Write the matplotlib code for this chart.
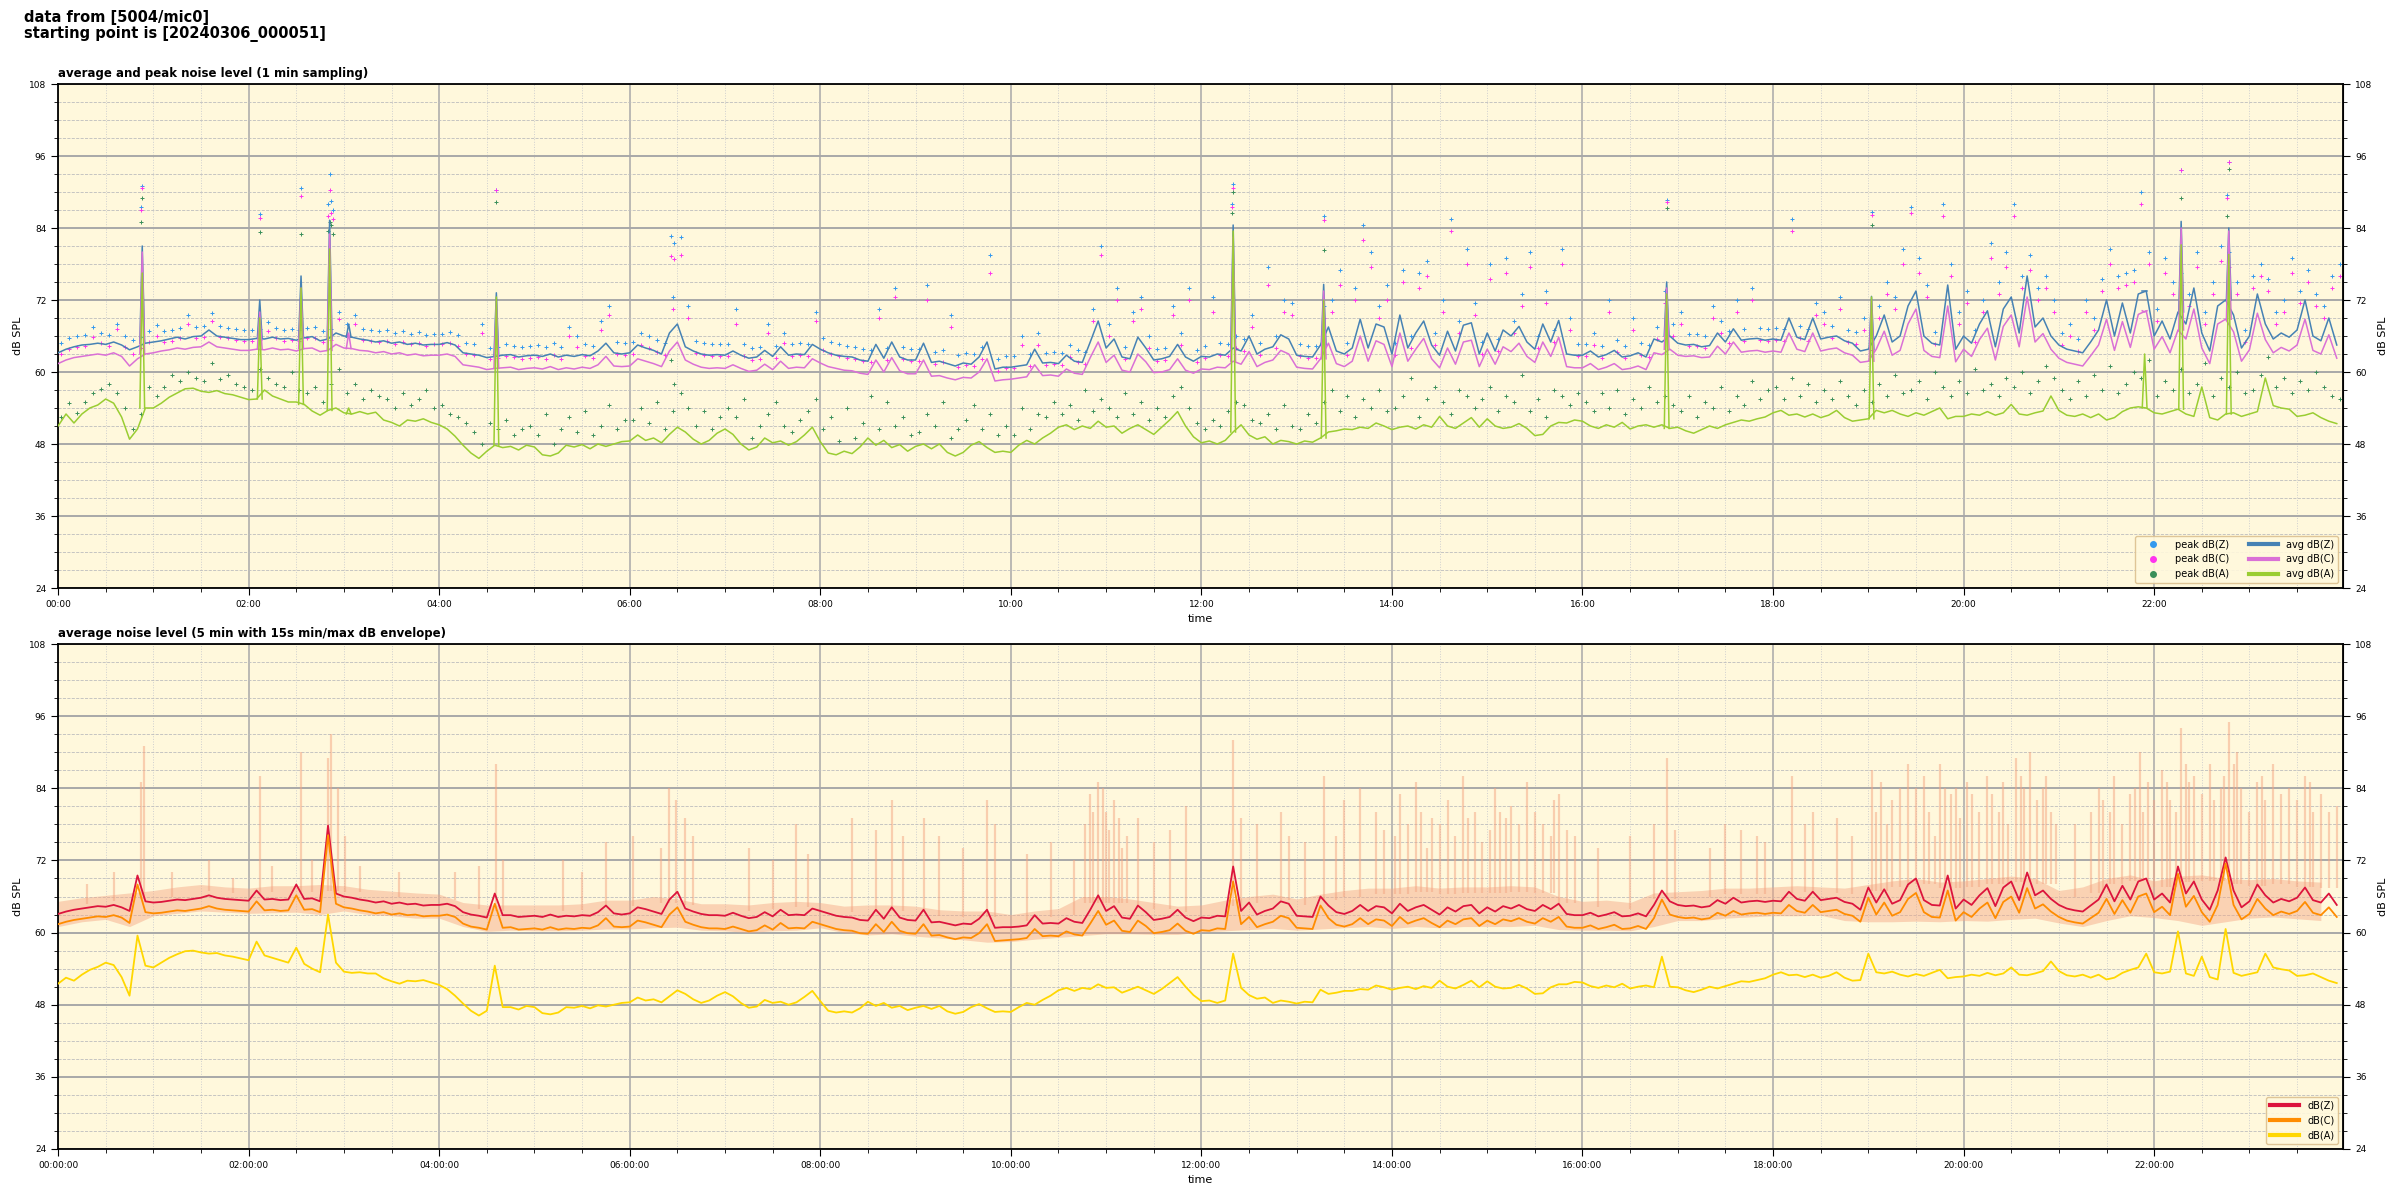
import matplotlib.pyplot as plt
import numpy as np
from matplotlib.lines import Line2D
from matplotlib.ticker import MultipleLocator, FuncFormatter

# minutes after 00:00 (5 min and 15 min steps)
t5 = np.arange(0, 1440, 5)
t15 = np.arange(0, 1440, 15)

# ---- top panel: 1 min averages (read at 5 min steps), one row per hour
avg_z = [
    63.2, 63.8, 64.2, 64.5, 64.6, 64.8, 64.6, 65.0, 64.5, 63.7, 64.2, 64.8,
    65.0, 65.2, 65.5, 65.8, 65.5, 65.9, 66.0, 67.0, 66.0, 65.8, 65.6, 65.4,
    65.4, 65.6, 65.5, 65.8, 65.5, 65.6, 65.3, 65.7, 65.9, 65.2, 65.5, 66.5,
    66.0, 65.8, 65.5, 65.3, 65.0, 65.2, 64.8, 65.0, 64.6, 64.8, 64.5, 64.6,
    64.6, 64.9, 64.5, 63.2, 63.0, 62.8, 62.4, 62.6, 62.8, 62.9, 62.5, 62.7,
    62.8, 62.6, 63.0, 62.5, 62.8, 62.6, 62.9, 62.7, 63.5, 64.8, 63.2, 63.0,
    63.2, 64.5, 64.0, 63.6, 63.0, 66.5, 68.0, 64.2, 63.5, 63.0, 62.8, 62.9,
    62.8, 63.5, 62.8, 62.3, 62.5, 63.6, 62.6, 64.2, 62.8, 63.0, 62.9, 64.6,
    63.8, 63.2, 62.8, 62.6, 62.5, 62.0, 61.8, 64.6, 62.3, 65.0, 62.5, 62.0,
    62.0, 64.8, 61.6, 61.8, 61.4, 61.0, 61.5, 61.3, 62.5, 65.0, 60.5, 60.8,
    60.8, 61.0, 61.2, 63.8, 61.5, 61.6, 61.4, 62.8, 61.8, 61.6, 65.0, 68.5,
    64.0, 65.5, 62.5, 62.2, 65.8, 64.0, 62.0, 62.2, 62.6, 64.6, 62.5, 61.8,
    62.6, 62.5, 63.0, 62.8, 64.0, 63.5, 66.0, 63.0, 63.8, 64.2, 66.2, 65.5,
    62.8, 62.6, 62.5, 64.5, 67.5, 63.5, 63.0, 64.0, 68.8, 64.0, 68.0, 67.5,
    63.0, 69.5, 64.0, 66.5, 68.5, 64.5, 62.8, 66.8, 63.5, 67.8, 68.2, 63.0,
    66.5, 63.5, 67.0, 66.0, 67.6, 65.0, 63.8, 68.0, 65.0, 68.6, 63.0, 62.8,
    62.8, 63.5, 62.5, 62.9, 63.6, 62.5, 62.7, 63.2, 62.5, 65.5, 65.0, 66.0,
    64.8, 64.5, 64.6, 64.2, 64.4, 66.5, 65.0, 67.2, 65.3, 65.5, 65.6, 65.3,
    65.5, 65.3, 69.0, 65.8, 65.4, 69.0, 65.5, 65.8, 66.0, 65.2, 64.8, 63.5,
    63.8, 66.0, 69.5, 65.0, 66.0, 71.0, 73.5, 66.0, 64.8, 64.5, 74.5, 63.8,
    66.0, 64.8, 68.0, 70.2, 64.2, 70.5, 72.5, 66.5, 76.0, 67.5, 69.0, 66.0,
    64.5, 63.8, 63.5, 63.2, 65.0, 67.0, 72.0, 66.0, 71.5, 66.5, 73.0, 73.5,
    66.0, 68.5, 65.5, 70.0, 68.0, 74.0, 66.5, 63.5, 71.0, 72.0, 69.5, 64.0,
    66.0, 73.0, 68.0, 65.5, 66.5, 65.8, 67.0, 72.0, 66.0, 65.2, 69.0, 64.5,
]
avg_c = [
    61.4, 62.0, 62.4, 62.6, 62.8, 63.0, 62.8, 63.2, 62.6, 61.0, 62.2, 63.0,
    63.2, 63.5, 63.7, 64.0, 63.8, 64.1, 64.2, 65.0, 64.2, 64.0, 63.8, 63.6,
    63.6, 63.8, 63.7, 64.0, 63.7, 63.8, 63.5, 63.9, 64.0, 63.4, 63.6, 64.6,
    64.0, 63.9, 63.6, 63.5, 63.2, 63.4, 63.0, 63.2, 62.8, 63.0, 62.7, 62.8,
    62.8, 63.0, 62.6, 61.2, 61.0, 60.8, 60.4, 60.6, 60.7, 60.8, 60.4, 60.6,
    60.7, 60.5, 60.9, 60.4, 60.7, 60.5, 60.8, 60.6, 61.2, 62.6, 61.0, 60.9,
    61.0, 62.2, 61.8, 61.4, 60.9, 63.5, 65.0, 62.0, 61.3, 60.8, 60.6, 60.7,
    60.6, 61.2, 60.6, 60.1, 60.3, 61.3, 60.4, 61.8, 60.6, 60.8, 60.7, 62.2,
    61.5, 60.9, 60.6, 60.3, 60.2, 59.8, 59.6, 62.0, 60.0, 62.4, 60.2, 59.7,
    59.7, 62.0, 59.3, 59.4, 59.0, 58.7, 59.1, 59.0, 60.0, 62.2, 58.5, 58.7,
    58.8, 59.0, 59.2, 61.2, 59.4, 59.5, 59.3, 60.5, 59.8, 59.6, 62.4, 65.0,
    61.6, 62.8, 60.3, 60.0, 63.0, 61.7, 59.9, 60.0, 60.4, 62.2, 60.3, 59.8,
    60.5, 60.4, 60.8, 60.7, 61.8, 61.3, 63.4, 60.9, 61.6, 62.0, 63.6, 63.0,
    60.8, 60.6, 60.5, 62.2, 64.8, 61.4, 60.9, 61.8, 66.0, 61.8, 65.2, 64.6,
    60.9, 66.5, 61.8, 63.8, 65.6, 62.2, 60.7, 64.0, 61.3, 65.0, 65.3, 60.9,
    63.8, 61.3, 64.2, 63.4, 64.8, 62.6, 61.6, 65.0, 62.6, 65.8, 60.9, 60.7,
    60.7, 61.4, 60.4, 60.8, 61.4, 60.4, 60.6, 61.0, 60.4, 63.2, 62.9, 63.8,
    62.8, 62.6, 62.7, 62.4, 62.5, 64.3, 63.0, 65.0, 63.3, 63.5, 63.6, 63.3,
    63.5, 63.3, 66.5, 63.8, 63.4, 66.5, 63.5, 63.8, 64.0, 63.2, 62.8, 61.6,
    61.8, 63.8, 66.8, 62.8, 63.6, 68.0, 70.5, 63.6, 62.6, 62.4, 71.0, 61.7,
    63.8, 62.6, 65.4, 67.3, 62.0, 67.6, 69.5, 64.2, 72.5, 65.0, 66.4, 63.8,
    62.3, 61.6, 61.3, 61.0, 62.7, 64.5, 68.8, 63.6, 68.4, 64.1, 69.6, 70.2,
    63.8, 65.9, 63.2, 67.0, 65.5, 70.5, 64.0, 61.4, 68.0, 68.8, 66.7, 61.8,
    63.7, 69.8, 65.4, 63.2, 64.1, 63.5, 64.5, 68.8, 63.6, 63.0, 66.2, 62.3,
]
avg_a = [
    51.0, 53.0, 51.5, 53.0, 54.0, 54.5, 55.5, 54.8, 52.5, 48.8, 50.5, 54.0,
    54.0, 54.8, 55.8, 56.5, 57.2, 57.3, 56.8, 56.6, 56.9, 56.4, 56.2, 55.8,
    55.4, 55.5, 57.0, 56.0, 55.5, 55.0, 55.0, 54.6, 53.5, 52.8, 53.6, 54.0,
    53.2, 53.0, 53.4, 53.0, 53.3, 52.0, 51.6, 51.0, 52.0, 51.8, 52.2, 51.6,
    51.2, 50.5, 49.3, 47.8, 46.5, 45.6, 46.8, 47.8, 47.4, 47.6, 47.0, 47.8,
    47.5, 46.2, 46.0, 46.5, 47.8, 47.5, 47.9, 47.2, 48.0, 47.6, 48.0, 48.4,
    48.5, 49.5, 48.6, 49.0, 48.2, 49.6, 50.8, 50.0, 48.8, 48.0, 48.6, 49.8,
    50.5, 49.6, 48.0, 47.0, 47.5, 49.0, 48.2, 48.5, 47.8, 48.4, 49.5, 50.8,
    48.4, 46.5, 46.2, 46.8, 46.4, 47.5, 49.0, 47.8, 48.6, 47.4, 47.9, 46.8,
    47.6, 48.0, 47.2, 48.0, 46.6, 46.0, 46.6, 47.8, 48.4, 47.4, 46.6, 46.8,
    46.6, 47.8, 48.6, 48.0, 49.0, 49.8, 50.8, 51.2, 50.4, 51.0, 50.6, 51.8,
    50.8, 51.0, 49.8, 50.6, 51.2, 50.4, 49.6, 50.8, 52.0, 53.4, 51.0, 49.2,
    48.2, 48.5, 48.0, 48.6, 50.0, 51.2, 49.5, 48.8, 49.2, 48.0, 48.6, 48.4,
    48.0, 48.5, 48.3, 49.0, 50.0, 50.2, 50.5, 50.4, 50.8, 50.6, 51.5, 51.0,
    50.4, 50.8, 51.0, 50.5, 51.2, 50.8, 52.6, 51.0, 50.6, 51.5, 52.4, 50.8,
    52.2, 51.0, 50.6, 50.8, 51.4, 50.6, 49.4, 49.6, 51.0, 51.6, 51.5, 52.0,
    51.8, 51.0, 50.6, 51.2, 50.8, 51.6, 50.5, 51.0, 51.2, 50.8, 51.2, 50.6,
    50.8, 50.2, 49.8, 50.4, 51.0, 50.6, 51.2, 51.6, 52.0, 51.8, 52.2, 52.5,
    53.2, 53.6, 52.8, 53.0, 52.5, 53.0, 52.4, 52.8, 53.6, 52.4, 51.8, 52.0,
    52.2, 53.6, 53.2, 53.6, 53.0, 52.6, 53.2, 52.8, 53.4, 54.0, 52.2, 52.6,
    52.6, 53.0, 52.8, 53.4, 52.8, 53.2, 54.6, 53.0, 52.8, 53.2, 53.5, 56.0,
    53.6, 52.8, 52.6, 53.0, 52.4, 53.0, 52.0, 52.4, 53.4, 54.0, 54.2, 54.0,
    53.2, 53.0, 53.4, 53.8, 53.0, 52.6, 57.5, 52.4, 52.0, 53.0, 53.2, 52.6,
    53.0, 53.4, 59.0, 54.4, 54.0, 53.8, 52.6, 52.8, 53.2, 52.4, 51.8, 51.4,
]

# 1 min peaks (one read every 5 min)
peak_z = [
    64.8, 65.6, 66.0, 66.2, 67.5, 66.5, 66.2, 68.0, 66.0, 65.4, 65.8, 66.8,
    67.8, 66.8, 67.0, 67.4, 69.5, 67.5, 67.6, 69.8, 67.6, 67.4, 67.2, 67.0,
    67.0, 67.2, 68.4, 67.4, 67.0, 67.2, 67.0, 67.4, 67.5, 66.8, 67.2, 70.0,
    68.0, 69.5, 67.2, 67.0, 66.8, 67.0, 66.5, 66.8, 66.4, 66.6, 66.2, 66.4,
    66.4, 66.6, 66.2, 64.8, 64.6, 68.0, 64.0, 64.2, 64.6, 64.4, 64.2, 64.4,
    64.5, 64.2, 64.8, 64.2, 67.5, 66.0, 64.6, 64.4, 68.5, 71.0, 65.0, 64.8,
    65.0, 66.5, 66.0, 65.4, 64.8, 72.5, 82.5, 71.0, 65.2, 64.8, 64.6, 64.7,
    64.6, 70.5, 64.6, 64.0, 64.2, 68.0, 64.4, 66.5, 64.6, 64.8, 64.7, 70.0,
    65.6, 65.0, 64.6, 64.4, 64.2, 63.8, 63.6, 70.5, 64.0, 74.0, 64.2, 63.8,
    63.8, 74.5, 63.4, 63.6, 69.5, 62.8, 63.2, 63.0, 64.2, 79.5, 62.2, 62.6,
    62.6, 66.0, 63.0, 66.5, 63.2, 63.4, 63.2, 64.5, 63.6, 63.4, 70.5, 81.0,
    68.0, 74.0, 64.2, 70.0, 72.5, 66.0, 63.8, 64.0, 71.0, 66.5, 74.0, 63.6,
    64.4, 72.5, 64.8, 64.6, 66.0, 65.5, 69.5, 64.8, 77.5, 66.0, 72.0, 71.5,
    64.6, 64.4, 64.3, 71.0, 72.0, 77.0, 64.8, 74.0, 84.5, 80.0, 71.0, 74.5,
    64.8, 77.0, 66.0, 76.5, 78.5, 66.5, 72.0, 85.5, 68.5, 80.5, 71.5, 65.0,
    78.0, 65.5, 79.0, 68.5, 73.0, 80.0, 66.0, 73.5, 67.0, 80.5, 69.0, 64.6,
    64.6, 66.5, 64.3, 72.0, 65.4, 64.3, 69.0, 64.8, 64.5, 67.5, 73.5, 68.0,
    70.0, 66.3, 66.4, 66.0, 71.0, 68.5, 66.8, 72.0, 67.2, 74.0, 67.4, 67.2,
    67.4, 67.1, 85.5, 67.6, 67.2, 71.5, 70.0, 67.6, 72.5, 67.0, 66.6, 69.0,
    65.6, 71.0, 75.0, 72.5, 80.5, 87.5, 79.0, 74.5, 66.6, 88.0, 78.0, 70.0,
    73.5, 67.0, 72.0, 81.5, 75.0, 80.0, 88.0, 76.0, 79.5, 74.0, 76.0, 72.0,
    66.5, 68.0, 65.5, 72.0, 69.0, 75.5, 80.5, 76.0, 76.5, 77.0, 90.0, 80.0,
    70.5, 79.0, 75.0, 76.5, 73.0, 80.0, 70.0, 75.0, 81.0, 80.0, 75.0, 67.0,
    76.0, 78.0, 75.5, 70.0, 72.0, 79.0, 73.5, 77.0, 73.0, 71.0, 76.0, 78.0,
]
peak_c = [
    63.0, 63.8, 64.2, 64.4, 65.8, 64.8, 64.4, 67.2, 64.2, 63.0, 64.0, 65.0,
    66.0, 65.0, 65.2, 65.6, 68.0, 65.7, 65.8, 68.5, 65.8, 65.6, 65.4, 65.2,
    65.2, 65.4, 66.8, 65.6, 65.2, 65.4, 65.2, 65.6, 65.7, 65.0, 65.4, 68.8,
    66.2, 68.0, 65.4, 65.2, 65.0, 65.2, 64.7, 65.0, 64.6, 64.8, 64.4, 64.6,
    64.6, 64.8, 64.4, 63.0, 62.8, 66.5, 62.2, 62.4, 62.6, 62.5, 62.2, 62.4,
    62.5, 62.2, 62.8, 62.2, 66.0, 64.2, 62.6, 62.4, 67.0, 69.5, 63.0, 62.8,
    63.0, 64.5, 64.0, 63.4, 62.8, 70.5, 79.5, 69.0, 63.2, 62.8, 62.6, 62.7,
    62.6, 68.0, 62.6, 62.0, 62.2, 66.5, 62.4, 64.8, 62.6, 62.8, 62.7, 68.5,
    63.6, 63.0, 62.6, 62.4, 62.2, 61.8, 61.6, 69.0, 62.0, 72.5, 62.2, 61.8,
    61.8, 72.0, 61.4, 61.6, 67.5, 60.8, 61.2, 61.0, 62.2, 76.5, 60.2, 60.6,
    60.6, 64.5, 61.0, 64.5, 61.2, 61.4, 61.2, 62.5, 61.6, 61.4, 68.5, 79.5,
    66.0, 72.0, 62.2, 68.5, 70.5, 64.0, 61.8, 62.0, 69.5, 64.5, 72.0, 61.6,
    62.4, 70.0, 62.8, 62.6, 64.0, 63.5, 67.5, 62.8, 74.5, 64.0, 70.0, 69.5,
    62.6, 62.4, 62.3, 69.0, 70.0, 74.5, 62.8, 72.0, 82.0, 77.5, 69.0, 72.0,
    62.8, 75.0, 64.0, 74.0, 76.0, 64.5, 70.0, 83.5, 66.5, 78.0, 69.5, 63.0,
    75.5, 63.5, 76.5, 66.5, 71.0, 77.5, 64.0, 71.5, 65.0, 78.0, 67.0, 62.6,
    62.6, 64.5, 62.3, 70.0, 63.4, 62.3, 67.0, 62.8, 62.5, 65.5, 71.5, 66.0,
    68.0, 64.3, 64.4, 64.0, 69.0, 66.5, 64.8, 70.0, 65.2, 72.0, 65.4, 65.2,
    65.4, 65.1, 83.5, 65.6, 65.2, 69.5, 68.0, 65.6, 70.5, 65.0, 64.6, 67.0,
    63.6, 69.0, 73.0, 70.5, 78.0, 86.5, 76.5, 72.5, 64.6, 86.0, 76.0, 68.0,
    71.5, 65.0, 70.0, 79.0, 73.0, 77.5, 86.0, 74.0, 77.0, 72.0, 74.0, 70.0,
    64.5, 66.0, 63.5, 70.0, 67.0, 73.5, 78.0, 74.0, 74.5, 75.0, 88.0, 78.0,
    68.5, 76.5, 73.0, 74.5, 71.0, 77.5, 68.0, 73.0, 78.5, 77.5, 73.0, 65.0,
    74.0, 76.0, 73.5, 68.0, 70.0, 76.5, 71.5, 75.0, 71.0, 69.0, 74.0, 76.0,
]
peak_a = [
    52.5, 54.8, 53.2, 55.0, 56.5, 57.2, 58.0, 56.5, 54.0, 50.5, 53.0, 57.5,
    56.0, 57.5, 59.5, 58.5, 60.0, 59.0, 58.5, 61.5, 58.8, 59.5, 58.0, 57.5,
    57.0, 60.5, 59.0, 58.0, 57.5, 60.0, 57.0, 56.5, 57.5, 55.0, 58.0, 60.5,
    56.5, 58.0, 55.5, 57.0, 56.0, 55.5, 54.0, 56.5, 54.5, 55.5, 57.0, 54.0,
    54.5, 53.0, 52.5, 51.5, 50.0, 48.0, 51.5, 50.5, 52.0, 49.5, 50.5, 51.0,
    49.5, 53.0, 48.0, 50.5, 52.5, 50.0, 53.5, 49.5, 51.0, 54.5, 50.5, 52.0,
    52.0, 54.0, 51.5, 55.0, 50.5, 53.5, 56.5, 54.0, 51.0, 53.5, 50.5, 52.5,
    54.0, 52.5, 55.5, 49.0, 51.0, 53.0, 55.0, 51.0, 50.0, 52.0, 53.5, 55.5,
    50.5, 52.5, 48.5, 54.0, 49.0, 51.5, 56.0, 50.5, 55.0, 51.0, 52.5, 49.5,
    50.0, 53.0, 51.0, 55.0, 49.0, 50.5, 52.0, 54.5, 50.5, 53.0, 49.5, 51.0,
    49.5, 54.0, 50.5, 53.0, 52.5, 55.0, 53.0, 54.5, 52.0, 57.0, 53.5, 55.5,
    54.0, 52.5, 56.5, 53.0, 55.0, 52.0, 54.0, 52.5, 56.0, 57.5, 54.0, 51.5,
    50.5, 52.0, 51.0, 53.5, 55.0, 54.5, 52.0, 51.5, 53.0, 50.5, 54.5, 51.0,
    50.5, 53.0, 51.5, 55.0, 57.0, 53.5, 56.0, 52.5, 55.5, 54.0, 57.0, 53.5,
    54.0, 56.0, 59.0, 52.5, 55.5, 57.5, 55.0, 53.0, 57.0, 56.0, 54.0, 55.5,
    57.5, 53.5, 56.0, 55.0, 59.5, 53.5, 55.5, 52.5, 57.0, 56.0, 54.5, 56.5,
    55.0, 53.5, 56.5, 54.0, 57.0, 53.0, 55.5, 54.0, 57.5, 55.0, 56.0, 54.5,
    53.5, 56.0, 52.5, 55.0, 54.0, 57.5, 53.5, 56.0, 54.5, 58.5, 55.5, 57.0,
    57.5, 55.5, 59.0, 56.0, 58.0, 55.0, 57.0, 55.5, 58.5, 56.0, 54.5, 57.0,
    55.0, 58.0, 56.0, 59.5, 56.5, 57.0, 58.5, 55.5, 60.0, 57.5, 56.0, 58.5,
    56.5, 60.5, 57.0, 58.0, 56.0, 59.0, 57.5, 60.0, 56.5, 58.5, 61.0, 59.0,
    57.0, 55.5, 58.5, 56.0, 59.5, 57.0, 61.0, 56.5, 58.0, 60.0, 59.0, 62.0,
    56.0, 58.5, 57.0, 60.5, 56.5, 58.0, 61.5, 56.0, 59.0, 57.5, 60.0, 56.5,
    57.0, 59.5, 62.5, 57.5, 59.0, 56.5, 58.5, 57.0, 60.0, 57.5, 56.0, 55.5,
]

# short events in the 1 min averages
spike_t = [53, 127, 153, 171, 183, 276, 740, 797, 1013, 1142, 1314, 1337, 1367]
spike_z = [81.0, 72.0, 76.0, 85.3, 68.0, 73.2, 84.5, 74.6, 75.0, 72.6, 73.5, 85.1, 84.0]
spike_c = [80.0, 70.0, 74.0, 83.0, 66.5, 72.0, 82.5, 73.5, 74.0, 72.0, 70.0, 84.0, 83.5]
spike_a = [76.5, 69.0, 74.0, 80.5, 54.0, 72.5, 83.5, 72.0, 73.0, 72.5, 63.0, 81.2, 79.6]

# peaks during those events
dot_t = [52, 53, 127, 153, 170, 171, 172, 173, 276, 386, 388, 739, 740, 797, 1013, 1142, 1337, 1366, 1367]
dot_z = [87.5, 91.0, 86.3, 90.6, 88.0, 93.0, 88.5, 87.0, 90.4, 82.6, 81.5, 88.0, 91.4, 86.0, 88.6, 86.6, 93.6, 89.5, 95.0]
dot_c = [87.0, 90.6, 85.6, 89.3, 86.0, 90.4, 86.5, 85.5, 90.4, 79.3, 78.8, 87.5, 90.7, 85.4, 88.3, 86.2, 93.6, 89.0, 95.0]
dot_a = [85.0, 89.0, 83.4, 83.0, 83.5, 85.0, 84.5, 83.0, 88.4, 62.0, 58.0, 86.5, 90.0, 80.3, 87.3, 84.5, 89.0, 86.0, 93.8]

# ---- bottom panel: 5 min averages
z_5m = [
    63.1, 63.5, 63.8, 64.0, 64.2, 64.4, 64.3, 64.6, 64.2, 63.6, 69.5, 65.2,
    65.0, 65.1, 65.3, 65.5, 65.4, 65.6, 65.8, 66.2, 65.8, 65.6, 65.5, 65.4,
    65.3, 67.0, 65.5, 65.6, 65.4, 65.5, 68.0, 65.6, 65.7, 65.2, 77.8, 66.5,
    66.0, 65.8, 65.5, 65.3, 65.0, 65.2, 64.8, 65.0, 64.7, 64.8, 64.5, 64.6,
    64.6, 64.8, 64.4, 63.4, 63.0, 62.8, 62.5, 66.5, 62.9, 62.9, 62.6, 62.7,
    62.8, 62.6, 63.0, 62.6, 62.8, 62.7, 62.9, 62.8, 63.4, 64.5, 63.2, 63.0,
    63.2, 64.2, 63.9, 63.5, 63.1, 65.5, 66.8, 64.0, 63.5, 63.1, 62.9, 62.9,
    62.8, 63.3, 62.8, 62.4, 62.6, 63.4, 62.7, 63.8, 62.9, 63.0, 62.9, 64.0,
    63.6, 63.2, 62.8, 62.6, 62.5, 62.1, 62.0, 63.8, 62.3, 64.2, 62.5, 62.1,
    62.0, 63.8, 61.7, 61.8, 61.5, 61.2, 61.5, 61.4, 62.3, 63.8, 60.8, 60.9,
    60.9, 61.0, 61.2, 62.9, 61.5, 61.6, 61.5, 62.4, 61.8, 61.6, 63.8, 66.2,
    63.6, 64.4, 62.5, 62.3, 64.5, 63.4, 62.1, 62.3, 62.6, 63.8, 62.5, 61.9,
    62.5, 62.4, 62.8, 62.7, 71.0, 63.6, 65.0, 63.0, 63.6, 64.0, 65.2, 64.8,
    62.8, 62.7, 62.6, 66.0, 64.5, 63.4, 63.1, 63.6, 64.6, 63.6, 64.4, 64.2,
    63.2, 64.8, 63.6, 64.2, 64.6, 63.8, 63.0, 64.2, 63.5, 64.4, 64.6, 63.2,
    64.2, 63.5, 64.4, 64.0, 64.6, 63.9, 63.6, 64.6, 63.9, 64.8, 63.1, 62.9,
    62.9, 63.3, 62.7, 63.0, 63.4, 62.7, 62.8, 63.2, 62.7, 64.6, 67.0, 65.2,
    64.6, 64.4, 64.5, 64.2, 64.4, 65.4, 64.8, 65.8, 65.0, 65.2, 65.3, 65.1,
    65.3, 65.2, 66.8, 65.6, 65.3, 66.8, 65.4, 65.6, 65.8, 65.1, 64.8, 63.8,
    67.5, 65.0, 67.2, 64.8, 65.4, 68.0, 69.0, 65.4, 64.6, 64.5, 69.5, 64.0,
    65.5, 64.6, 66.2, 67.4, 64.4, 67.5, 68.5, 65.4, 70.0, 66.2, 67.0, 65.6,
    64.6, 64.0, 63.7, 63.5, 64.5, 65.5, 68.0, 65.2, 67.8, 65.5, 68.5, 69.0,
    65.5, 66.5, 65.0, 71.0, 66.5, 68.5, 65.5, 63.8, 67.0, 72.5, 67.0, 64.2,
    65.2, 68.0, 66.2, 65.0, 65.6, 65.2, 65.8, 67.5, 65.4, 65.0, 66.5, 64.6,
]
c_5m = [
    61.4, 61.8, 62.1, 62.3, 62.5, 62.7, 62.6, 62.9, 62.5, 61.6, 68.0, 63.4,
    63.2, 63.3, 63.5, 63.7, 63.6, 63.8, 64.0, 64.4, 64.0, 63.8, 63.7, 63.6,
    63.5, 65.2, 63.7, 63.8, 63.6, 63.7, 66.2, 63.8, 63.9, 63.4, 76.2, 64.8,
    64.2, 64.0, 63.7, 63.5, 63.2, 63.4, 63.0, 63.2, 62.9, 63.0, 62.7, 62.8,
    62.8, 63.0, 62.6, 61.5, 61.0, 60.8, 60.5, 64.8, 60.8, 60.9, 60.5, 60.6,
    60.7, 60.5, 60.9, 60.5, 60.7, 60.6, 60.8, 60.7, 61.2, 62.4, 61.0, 60.9,
    61.0, 62.0, 61.7, 61.3, 60.9, 63.0, 64.2, 61.8, 61.3, 60.9, 60.7, 60.7,
    60.6, 61.0, 60.6, 60.2, 60.4, 61.2, 60.5, 61.6, 60.7, 60.8, 60.7, 61.8,
    61.4, 61.0, 60.6, 60.4, 60.3, 59.9, 59.8, 61.4, 60.1, 61.8, 60.3, 59.9,
    59.8, 61.4, 59.5, 59.6, 59.2, 58.9, 59.2, 59.1, 59.9, 61.4, 58.6, 58.7,
    58.8, 58.9, 59.1, 60.6, 59.4, 59.5, 59.4, 60.2, 59.7, 59.5, 61.5, 63.6,
    61.3, 62.0, 60.3, 60.1, 62.0, 61.1, 59.9, 60.1, 60.4, 61.5, 60.3, 59.8,
    60.4, 60.3, 60.7, 60.6, 68.5, 61.4, 62.6, 60.9, 61.4, 61.8, 62.8, 62.4,
    60.8, 60.7, 60.6, 64.5, 62.4, 61.3, 61.0, 61.4, 62.4, 61.4, 62.2, 62.0,
    61.1, 62.6, 61.5, 62.0, 62.4, 61.6, 60.9, 62.0, 61.4, 62.2, 62.4, 61.1,
    62.0, 61.4, 62.2, 61.9, 62.4, 61.8, 61.5, 62.4, 61.8, 62.6, 61.0, 60.8,
    60.8, 61.2, 60.6, 60.9, 61.3, 60.6, 60.7, 61.1, 60.6, 62.4, 65.5, 63.0,
    62.6, 62.4, 62.5, 62.2, 62.4, 63.3, 62.8, 63.6, 63.0, 63.2, 63.3, 63.1,
    63.3, 63.2, 64.6, 63.6, 63.3, 64.6, 63.4, 63.6, 63.8, 63.1, 62.8, 61.8,
    65.8, 63.0, 65.0, 62.8, 63.4, 65.6, 66.6, 63.4, 62.6, 62.5, 67.0, 62.0,
    63.4, 62.6, 64.0, 65.0, 62.4, 65.1, 66.0, 63.3, 67.4, 64.0, 64.7, 63.5,
    62.6, 62.0, 61.7, 61.5, 62.4, 63.3, 65.6, 63.1, 65.4, 63.3, 66.0, 66.5,
    63.4, 64.3, 62.9, 69.8, 64.3, 66.1, 63.4, 61.8, 64.6, 71.5, 64.6, 62.2,
    63.1, 65.6, 64.0, 62.9, 63.5, 63.1, 63.6, 65.1, 63.3, 62.9, 64.2, 62.6,
]
a_5m = [
    51.5, 52.5, 52.0, 53.0, 53.8, 54.3, 55.0, 54.6, 52.6, 49.5, 59.5, 54.5,
    54.2, 55.0, 55.8, 56.4, 56.9, 57.0, 56.7, 56.5, 56.6, 56.2, 56.0, 55.7,
    55.4, 58.5, 56.2, 55.8, 55.4, 55.0, 57.5, 54.8, 54.0, 53.4, 63.0, 55.0,
    53.5, 53.3, 53.4, 53.2, 53.2, 52.4, 51.9, 51.5, 52.0, 51.9, 52.1, 51.7,
    51.3, 50.6, 49.5, 48.2, 47.0, 46.2, 47.0, 54.5, 47.6, 47.6, 47.2, 47.8,
    47.6, 46.6, 46.4, 46.7, 47.6, 47.5, 47.8, 47.4, 47.9, 47.7, 48.0, 48.3,
    48.4, 49.2, 48.7, 48.9, 48.4, 49.4, 50.4, 49.8, 48.9, 48.3, 48.7, 49.5,
    50.1, 49.4, 48.3, 47.5, 47.7, 48.8, 48.3, 48.5, 48.0, 48.4, 49.3, 50.3,
    48.6, 47.0, 46.7, 46.9, 46.7, 47.4, 48.5, 47.8, 48.3, 47.5, 47.8, 47.1,
    47.5, 47.8, 47.3, 47.8, 46.9, 46.5, 46.8, 47.6, 48.1, 47.4, 46.8, 46.9,
    46.8, 47.6, 48.3, 48.0, 48.8, 49.5, 50.4, 50.8, 50.3, 50.8, 50.6, 51.4,
    50.8, 50.9, 50.0, 50.5, 51.0, 50.4, 49.8, 50.6, 51.6, 52.6, 51.0, 49.6,
    48.6, 48.7, 48.3, 48.7, 56.5, 50.8, 49.6, 49.0, 49.2, 48.3, 48.7, 48.5,
    48.2, 48.5, 48.4, 50.5, 49.8, 50.0, 50.3, 50.3, 50.6, 50.5, 51.2, 50.9,
    50.5, 50.8, 51.0, 50.6, 51.1, 50.8, 52.0, 51.0, 50.7, 51.3, 52.0, 50.9,
    51.9, 51.0, 50.7, 50.8, 51.3, 50.7, 49.8, 49.9, 50.9, 51.4, 51.4, 51.8,
    51.7, 51.1, 50.8, 51.2, 50.9, 51.5, 50.7, 51.0, 51.2, 50.9, 56.0, 51.0,
    50.9, 50.4, 50.1, 50.5, 51.0, 50.7, 51.1, 51.5, 51.9, 51.8, 52.1, 52.4,
    53.0, 53.4, 52.9, 53.0, 52.6, 53.0, 52.5, 52.8, 53.4, 52.5, 52.0, 52.1,
    56.5, 53.4, 53.2, 53.5, 53.0, 52.7, 53.1, 52.8, 53.3, 53.8, 52.4, 52.6,
    52.7, 53.0, 52.8, 53.3, 52.9, 53.2, 54.2, 53.0, 52.9, 53.2, 53.6, 55.2,
    53.6, 52.9, 52.7, 53.0, 52.5, 53.0, 52.2, 52.5, 53.3, 53.8, 54.2, 56.5,
    53.4, 53.2, 53.5, 60.2, 53.2, 52.8, 56.0, 52.6, 52.2, 60.6, 53.3, 52.8,
    53.1, 53.4, 56.5, 54.2, 53.9, 53.7, 52.8, 52.9, 53.2, 52.6, 52.0, 51.6,
]

# 15 s min/max envelope (read every 15 min) plus its tallest short maxima
env_lo = [
    61.0, 61.8, 62.2, 61.0, 62.8, 63.2, 63.6, 63.4, 63.2, 63.3, 63.4, 63.0,
    63.6, 63.0, 62.8, 62.4, 62.4, 61.0, 60.2, 60.4, 60.3, 60.3, 60.4, 60.6,
    60.6, 60.8, 60.9, 60.4, 60.3, 60.0, 60.3, 60.4, 60.8, 60.0, 59.6, 59.8,
    59.4, 59.1, 58.8, 58.4, 58.5, 58.9, 59.2, 59.5, 59.8, 59.8, 59.7, 59.7,
    60.1, 60.3, 60.5, 60.7, 60.4, 60.6, 60.8, 61.0, 60.7, 61.0, 60.8, 61.0,
    61.0, 61.0, 61.2, 60.5, 60.4, 60.4, 60.3, 61.0, 62.0, 62.0, 62.4, 62.6,
    62.8, 62.8, 62.9, 62.0, 61.8, 61.8, 61.9, 61.8, 62.0, 61.9, 62.2, 62.4,
    61.6, 61.0, 62.0, 62.8, 62.5, 62.0, 61.2, 61.8, 62.4, 62.6, 62.3, 62.0,
]
env_hi = [
    65.2, 65.8, 66.2, 66.6, 67.0, 67.6, 68.0, 67.6, 67.4, 67.8, 67.8, 68.0,
    67.8, 67.2, 66.9, 66.6, 66.4, 65.0, 64.6, 64.6, 64.6, 64.6, 64.8, 65.4,
    65.4, 66.0, 65.6, 64.8, 64.8, 64.6, 65.0, 65.2, 65.0, 64.4, 64.6, 64.6,
    64.4, 63.8, 63.6, 63.6, 63.0, 63.6, 64.0, 66.0, 66.0, 65.6, 65.0, 64.4,
    64.6, 65.4, 66.0, 66.4, 65.6, 66.4, 67.0, 67.4, 67.4, 67.8, 67.4, 67.6,
    67.6, 67.8, 67.6, 66.0, 65.2, 65.4, 65.0, 66.6, 66.8, 67.0, 67.4, 67.4,
    67.6, 67.8, 67.6, 67.4, 68.0, 68.6, 69.0, 68.4, 68.6, 69.0, 69.4, 69.0,
    67.0, 67.6, 69.0, 69.6, 68.6, 69.4, 69.6, 69.0, 68.8, 69.0, 68.6, 68.4,
]
env_spike_t = [
    18, 35, 52, 54, 72, 95, 110, 127, 135, 153, 160, 170, 172, 176, 181, 190, 215,
    250, 265, 276, 280, 318, 330, 345, 362, 380, 385, 389, 395, 400, 435, 450, 465, 472,
    500, 515, 525, 532, 545, 555, 570, 585, 590, 610, 625, 640, 650, 655,
    660, 665, 670, 680, 690, 700, 710, 740, 745, 755, 770, 775,
    785, 797, 805, 810, 820, 830, 835, 845, 850, 855, 865, 875, 880, 885, 892,
    905, 912, 915, 925, 935, 945, 950, 955, 970, 990, 1005, 1013, 1018,
    1040, 1050, 1060, 1070, 1075, 1092, 1100, 1105, 1120, 1130,
    1142, 1148, 1155, 1165, 1170, 1175, 1185, 1192, 1195,
    1205, 1215, 1222, 1225, 1233, 1238, 1242, 1250, 1255,
    1270, 1285, 1292, 1295, 1305, 1311, 1316,
    1325, 1330, 1337, 1342, 1345, 1355, 1362, 1367, 1372,
    1385, 1390, 1395, 1405, 1415, 1420, 1425, 1435,
    647, 652, 658, 662, 668, 673,
    842, 858, 862, 870, 888, 897, 902, 908, 920, 930, 940, 942,
    1145, 1152, 1160, 1178, 1182, 1188, 1198, 1202, 1210, 1218, 1228, 1236,
    1246, 1252, 1258, 1280, 1288, 1300, 1308, 1313, 1320, 1328, 1334, 1340,
    1350, 1358, 1364, 1370, 1375, 1380, 1388, 1400, 1410, 1418, 1430,
]
env_spike_top = [
    68, 70, 85, 91, 70, 72, 69, 86, 71, 90, 72, 89, 93, 84, 76, 71, 70,
    70, 71, 88, 72, 72, 70, 75, 76, 74, 84, 82, 79, 76, 74, 72, 78, 73,
    79, 77, 82, 76, 79, 76, 74, 82, 78, 73, 75, 72, 83, 85,
    80, 82, 74, 79, 75, 77, 81, 92, 79, 78, 80, 76,
    75, 86, 76, 82, 84, 80, 77, 83, 78, 85, 79, 82, 76, 86, 80,
    84, 79, 81, 85, 78, 83, 77, 76, 74, 76, 78, 89, 77,
    74, 78, 77, 76, 75, 86, 78, 80, 79, 76,
    87, 85, 82, 88, 84, 86, 88, 83, 84,
    83, 86, 80, 85, 89, 84, 90, 84, 80,
    78, 84, 80, 86, 83, 90, 85,
    87, 82, 94, 85, 86, 88, 84, 95, 90,
    85, 82, 88, 84, 86, 80, 83, 81,
    78, 80, 84, 77, 79, 76,
    76, 80, 74, 78, 79, 75, 77, 80, 78, 80, 76, 82,
    80, 78, 84, 80, 76, 84, 79, 85, 80, 83, 78, 86,
    82, 86, 78, 80, 82, 78, 84, 80, 82, 85, 80, 88,
    83, 82, 86, 88, 84, 80, 86, 83, 82, 85, 80,
]

bg = '#fff8dc'
col_pz, col_pc, col_pa = '#3399ee', '#ff33ee', '#3a8f5a'
col_az, col_ac, col_aa = '#4682b4', '#da70d6', '#9acd32'
col_z, col_c, col_a = '#dc143c', '#ff8c00', '#ffd700'


def style_axes(ax, fmt, title):
    ax.set_facecolor(bg)
    ax.set_axisbelow(True)
    ax.set_xlim(0, 1439)
    ax.set_ylim(24, 108)
    ax.set_yticks(np.arange(24, 109, 12))
    ax.yaxis.set_minor_locator(MultipleLocator(3))
    ax.set_xticks(np.arange(0, 1440, 120))
    ax.xaxis.set_minor_locator(MultipleLocator(30))
    ax.xaxis.set_major_formatter(FuncFormatter(lambda v, p: fmt % (int(v) // 60)))
    ax.grid(which='major', axis='y', color='#a8a8a8', lw=1.4)
    ax.grid(which='major', axis='x', color='#a8a8a8', lw=1.1)
    ax.grid(which='minor', axis='y', color='#bdbdbd', ls='--', lw=0.6)
    ax.grid(which='minor', axis='x', color='#cfcfcf', ls=':', lw=0.7)
    ax.tick_params(which='major', labelsize=6.5, length=5)
    ax.tick_params(which='minor', length=3)
    for s in ax.spines.values():
        s.set_linewidth(1.3)
    ax.set_xlabel('time', fontsize=8)
    ax.set_ylabel('dB SPL', fontsize=8)
    ax.set_title(title, loc='left', fontsize=8.5, fontweight='bold', pad=5)
    sec = ax.secondary_yaxis('right')
    sec.set_yticks(np.arange(24, 109, 12))
    sec.yaxis.set_minor_locator(MultipleLocator(3))
    sec.tick_params(which='major', labelsize=6.5, length=5)
    sec.tick_params(which='minor', length=3)
    sec.set_ylabel('dB SPL', fontsize=8)


fig = plt.figure(figsize=(24, 12), dpi=100)
fig.text(0.01, 0.992, 'data from [5004/mic0]\nstarting point is [20240306_000051]',
         ha='left', va='top', fontsize=10.5, fontweight='bold', linespacing=1.1)

# ---------------- top panel
ax1 = fig.add_axes([0.0242, 0.51, 0.9521, 0.42])
style_axes(ax1, '%02d:00', 'average and peak noise level (1 min sampling)')

for vals, dots, col in [(peak_z, dot_z, col_pz), (peak_c, dot_c, col_pc), (peak_a, dot_a, col_pa)]:
    ax1.scatter(np.concatenate([t5 + 2, dot_t]), np.concatenate([vals, dots]),
                marker='+', s=9, linewidths=0.7, color=col, zorder=2)

for vals, spk, col in [(avg_z, spike_z, col_az), (avg_c, spike_c, col_ac), (avg_a, spike_a, col_aa)]:
    ax1.plot(t5, vals, color=col, lw=1.1, zorder=3)
    for t, p in zip(spike_t, spk):
        base = vals[min(int(round(t / 5)), len(vals) - 1)]
        ax1.plot([t - 1.5, t, t + 1.5], [base, p, base], color=col, lw=1.1, zorder=3)

h1 = [Line2D([], [], marker='o', ls='none', color=c, markersize=4) for c in (col_pz, col_pc, col_pa)]
h1 += [Line2D([], [], color=c, lw=3) for c in (col_az, col_ac, col_aa)]
ax1.legend(h1, ['peak dB(Z)', 'peak dB(C)', 'peak dB(A)', 'avg dB(Z)', 'avg dB(C)', 'avg dB(A)'],
           loc='lower right', ncol=2, fontsize=7, facecolor=bg, edgecolor='#dcc08f',
           framealpha=0.9, handlelength=3, columnspacing=2.0)

# ---------------- bottom panel
ax2 = fig.add_axes([0.0242, 0.0425, 0.9521, 0.4208])
style_axes(ax2, '%02d:00:00', 'average noise level (5 min with 15s min/max dB envelope)')

ax2.fill_between(t15, env_lo, env_hi, color='#f4a582', alpha=0.45, lw=0, zorder=1)
spike_base = [env_hi[min(int(t // 15), len(env_hi) - 1)] - 1 for t in env_spike_t]
ax2.vlines(env_spike_t, spike_base, env_spike_top, color='#f4a582', alpha=0.5, lw=1.6, zorder=1)

ax2.plot(t5, z_5m, color=col_z, lw=1.3, zorder=3)
ax2.plot(t5, c_5m, color=col_c, lw=1.3, zorder=3)
ax2.plot(t5, a_5m, color=col_a, lw=1.3, zorder=3)

h2 = [Line2D([], [], color=c, lw=3) for c in (col_z, col_c, col_a)]
ax2.legend(h2, ['dB(Z)', 'dB(C)', 'dB(A)'], loc='lower right', fontsize=7,
           facecolor=bg, edgecolor='#dcc08f', framealpha=0.9, handlelength=3)

fig.savefig('out.png', dpi=100)
